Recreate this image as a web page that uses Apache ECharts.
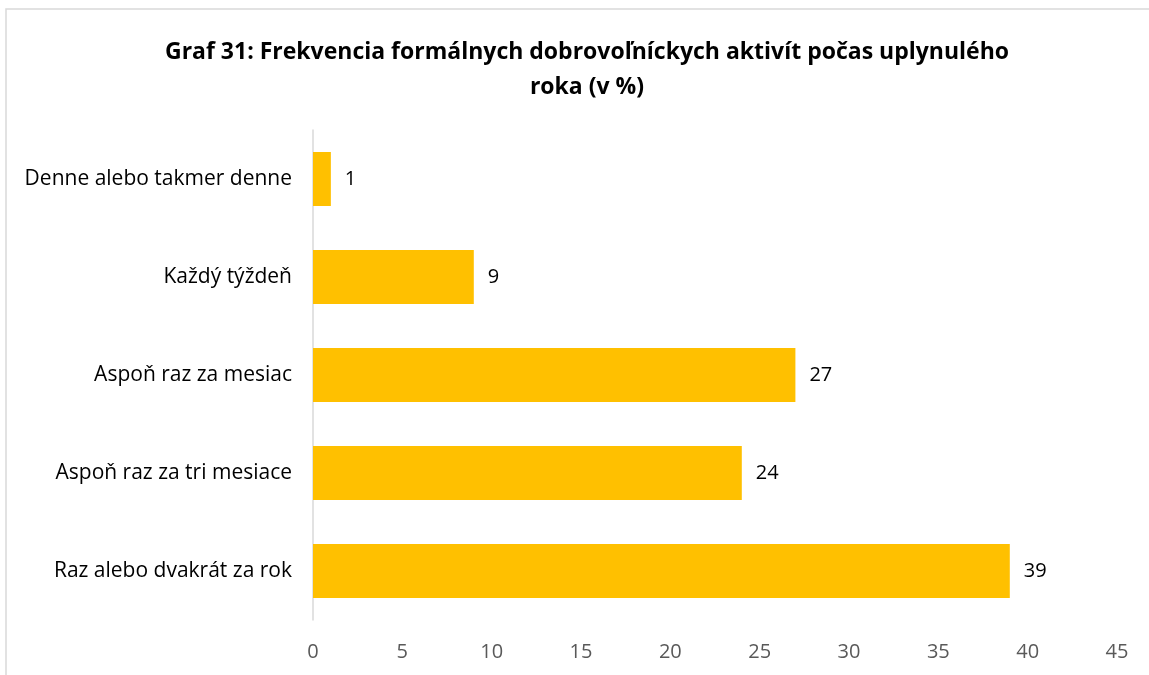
<!DOCTYPE html>
<html>
<head>
<meta charset="utf-8">
<script src="https://cdn.jsdelivr.net/npm/echarts@6/dist/echarts.min.js"></script>
<style>
html, body { margin: 0; padding: 0; background: #fff; }
#main { width: 1149px; height: 675px; }
</style>
</head>
<body>
<div id="main"></div>
<script>
var categories = ['Denne alebo takmer denne', 'Každý týždeň', 'Aspoň raz za mesiac', 'Aspoň raz za tri mesiace', 'Raz alebo dvakrát za rok'];
var values = [1, 9, 27, 24, 39];
var axisTicks = [0, 45, 5]; // min, max, interval

var myChart = echarts.init(document.getElementById('main'));
var option = {
	backgroundColor : '#fff',
	textStyle : {
		fontFamily : 'Open Sans'
	},
	// light frame round the chart area
	graphic : [ {
		type : 'rect',
		shape : { x : 6, y : 9, width : 1160, height : 700 },
		style : { fill : 'none', stroke : '#d9d9d9', lineWidth : 1.5 },
		silent : true
	} ],
	title : {
		text : 'Graf 31: Frekvencia formálnych dobrovoľníckych aktivít počas uplynulého\nroka (v %)',
		left : 582,
		top : 30,
		textAlign : 'center',
		textStyle : {
			fontFamily : 'Open Sans',
			fontWeight : 'bold',
			fontSize : 23,
			lineHeight : 35,
			color : '#000'
		}
	},
	grid : {
		left : 313,
		right : 32,
		top : 130,
		bottom : 55,
		containLabel : false
	},
	xAxis : {
		type : 'value',
		min : axisTicks[0],
		max : axisTicks[1],
		interval : axisTicks[2],
		axisLine : { show : false },
		axisTick : { show : false },
		splitLine : { show : false },
		axisLabel : {
			color : '#595959',
			fontSize : 20,
			margin : 22
		}
	},
	yAxis : {
		type : 'category',
		data : categories,
		inverse : true,
		axisLine : { show : true, lineStyle : { color : '#d9d9d9', width : 1.5 } },
		axisTick : { show : false },
		axisLabel : {
			color : '#000',
			fontSize : 21,
			margin : 21
		}
	},
	series : [ {
		type : 'bar',
		data : values,
		barCategoryGap : '45%',
		itemStyle : { color : '#FFC000' },
		label : {
			show : true,
			position : 'right',
			distance : 14,
			color : '#000',
			fontSize : 20
		}
	} ]
};
myChart.setOption(option);
</script>
</body>
</html>
